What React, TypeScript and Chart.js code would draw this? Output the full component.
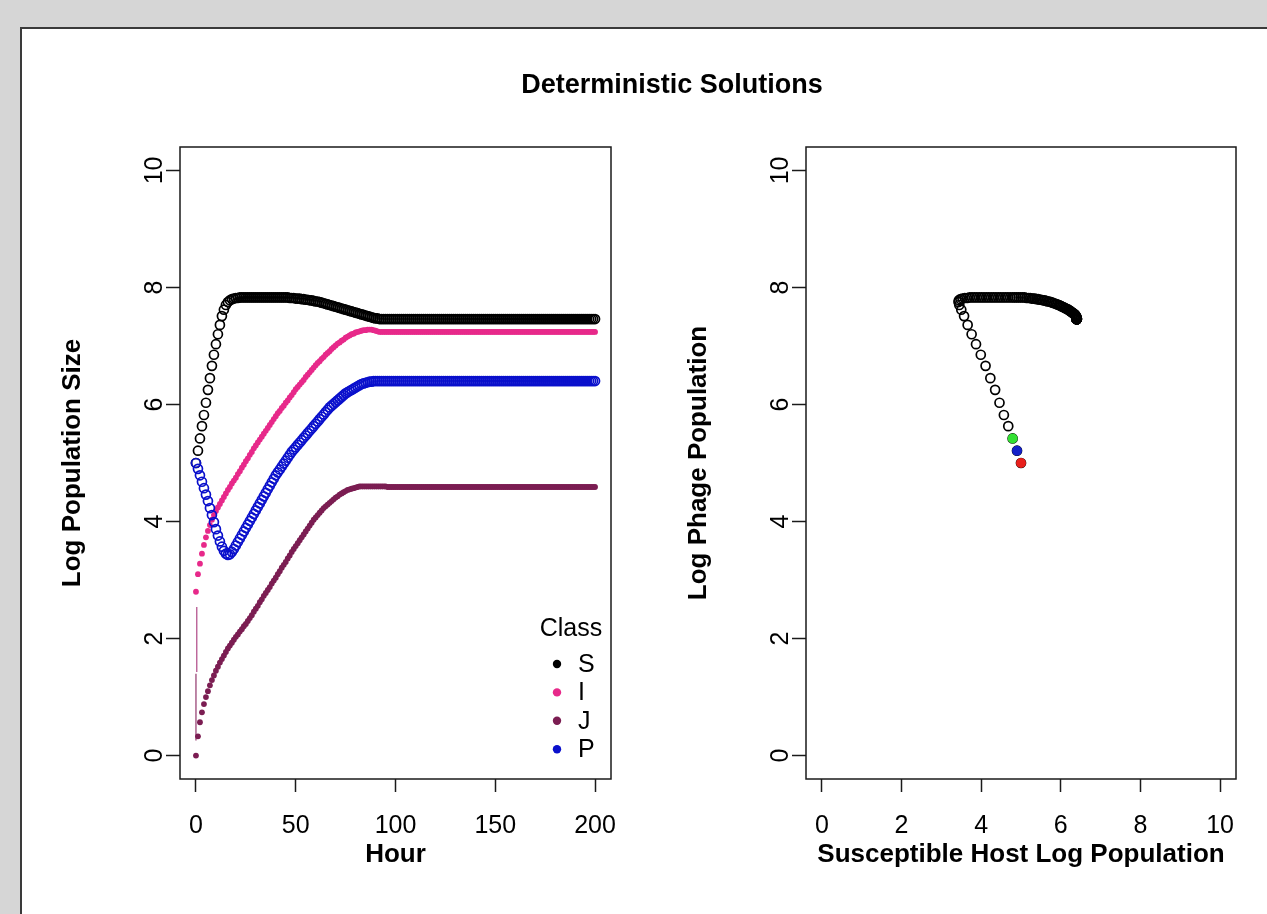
import React, { useEffect, useRef } from "react";
import { Chart, registerables } from "chart.js";

Chart.register(...registerables);

const FONT = '"Liberation Sans", Arial, Helvetica, sans-serif';

// ---------------- data ----------------
const HOURS = Array.from({ length: 201 }, (_, i) => i);

const S_LOG = [
  5.0, 5.21, 5.42, 5.63, 5.82, 6.03, 6.25, 6.45, 6.66, 6.85,
  7.03, 7.2, 7.36, 7.51, 7.62, 7.7, 7.75, 7.78, 7.8, 7.81,
  7.82, 7.82, 7.83, 7.83, 7.83, 7.83, 7.83, 7.83, 7.83, 7.83,
  7.83, 7.83, 7.83, 7.83, 7.83, 7.83, 7.83, 7.83, 7.83, 7.83,
  7.83, 7.83, 7.83, 7.83, 7.83, 7.83, 7.83, 7.82, 7.82, 7.82,
  7.81, 7.81, 7.81, 7.8, 7.8, 7.79, 7.79, 7.78, 7.78, 7.77,
  7.76, 7.76, 7.75, 7.74, 7.73, 7.72, 7.71, 7.7, 7.69, 7.68,
  7.67, 7.66, 7.65, 7.64, 7.63, 7.62, 7.61, 7.6, 7.59, 7.58,
  7.57, 7.56, 7.55, 7.54, 7.53, 7.52, 7.51, 7.5, 7.49, 7.48,
  7.47, 7.47, 7.46, 7.46, 7.46, 7.46, 7.46, 7.46, 7.46, 7.46,
  7.46, 7.46, 7.46, 7.46, 7.46, 7.46, 7.46, 7.46, 7.46, 7.46,
  7.46, 7.46, 7.46, 7.46, 7.46, 7.46, 7.46, 7.46, 7.46, 7.46,
  7.46, 7.46, 7.46, 7.46, 7.46, 7.46, 7.46, 7.46, 7.46, 7.46,
  7.46, 7.46, 7.46, 7.46, 7.46, 7.46, 7.46, 7.46, 7.46, 7.46,
  7.46, 7.46, 7.46, 7.46, 7.46, 7.46, 7.46, 7.46, 7.46, 7.46,
  7.46, 7.46, 7.46, 7.46, 7.46, 7.46, 7.46, 7.46, 7.46, 7.46,
  7.46, 7.46, 7.46, 7.46, 7.46, 7.46, 7.46, 7.46, 7.46, 7.46,
  7.46, 7.46, 7.46, 7.46, 7.46, 7.46, 7.46, 7.46, 7.46, 7.46,
  7.46, 7.46, 7.46, 7.46, 7.46, 7.46, 7.46, 7.46, 7.46, 7.46,
  7.46, 7.46, 7.46, 7.46, 7.46, 7.46, 7.46, 7.46, 7.46, 7.46,
  7.46,
];

const I_LOG = [
  2.8, 3.1, 3.28, 3.45, 3.6, 3.73, 3.84, 3.94, 4.03, 4.11,
  4.18, 4.24, 4.3, 4.36, 4.42, 4.48, 4.54, 4.59, 4.65, 4.7,
  4.75, 4.81, 4.86, 4.92, 4.97, 5.03, 5.08, 5.14, 5.19, 5.25,
  5.3, 5.35, 5.4, 5.45, 5.5, 5.55, 5.6, 5.65, 5.7, 5.75,
  5.8, 5.85, 5.89, 5.94, 5.98, 6.03, 6.07, 6.12, 6.16, 6.21,
  6.26, 6.3, 6.34, 6.38, 6.42, 6.47, 6.51, 6.55, 6.59, 6.63,
  6.67, 6.71, 6.74, 6.78, 6.81, 6.85, 6.88, 6.91, 6.95, 6.98,
  7.01, 7.04, 7.06, 7.09, 7.11, 7.14, 7.16, 7.18, 7.2, 7.21,
  7.23, 7.24, 7.25, 7.26, 7.27, 7.27, 7.28, 7.28, 7.28, 7.27,
  7.26, 7.25, 7.24, 7.24, 7.24, 7.24, 7.24, 7.24, 7.24, 7.24,
  7.24, 7.24, 7.24, 7.24, 7.24, 7.24, 7.24, 7.24, 7.24, 7.24,
  7.24, 7.24, 7.24, 7.24, 7.24, 7.24, 7.24, 7.24, 7.24, 7.24,
  7.24, 7.24, 7.24, 7.24, 7.24, 7.24, 7.24, 7.24, 7.24, 7.24,
  7.24, 7.24, 7.24, 7.24, 7.24, 7.24, 7.24, 7.24, 7.24, 7.24,
  7.24, 7.24, 7.24, 7.24, 7.24, 7.24, 7.24, 7.24, 7.24, 7.24,
  7.24, 7.24, 7.24, 7.24, 7.24, 7.24, 7.24, 7.24, 7.24, 7.24,
  7.24, 7.24, 7.24, 7.24, 7.24, 7.24, 7.24, 7.24, 7.24, 7.24,
  7.24, 7.24, 7.24, 7.24, 7.24, 7.24, 7.24, 7.24, 7.24, 7.24,
  7.24, 7.24, 7.24, 7.24, 7.24, 7.24, 7.24, 7.24, 7.24, 7.24,
  7.24, 7.24, 7.24, 7.24, 7.24, 7.24, 7.24, 7.24, 7.24, 7.24,
  7.24,
];

const J_LOG = [
  0.0, 0.33, 0.57, 0.74, 0.88, 1.0, 1.1, 1.2, 1.29, 1.37,
  1.45, 1.52, 1.59, 1.65, 1.71, 1.77, 1.83, 1.88, 1.93, 1.98,
  2.03, 2.07, 2.12, 2.16, 2.21, 2.25, 2.3, 2.35, 2.4, 2.46,
  2.51, 2.56, 2.62, 2.67, 2.73, 2.78, 2.83, 2.88, 2.94, 2.99,
  3.04, 3.1, 3.15, 3.21, 3.26, 3.31, 3.37, 3.42, 3.48, 3.53,
  3.58, 3.63, 3.68, 3.73, 3.78, 3.83, 3.88, 3.93, 3.98, 4.03,
  4.07, 4.11, 4.15, 4.19, 4.23, 4.26, 4.29, 4.32, 4.35, 4.38,
  4.41, 4.43, 4.46, 4.48, 4.5, 4.52, 4.54, 4.55, 4.56, 4.57,
  4.58, 4.59, 4.6, 4.6, 4.6, 4.6, 4.6, 4.6, 4.6, 4.6,
  4.6, 4.6, 4.6, 4.6, 4.6, 4.6, 4.59, 4.59, 4.59, 4.59,
  4.59, 4.59, 4.59, 4.59, 4.59, 4.59, 4.59, 4.59, 4.59, 4.59,
  4.59, 4.59, 4.59, 4.59, 4.59, 4.59, 4.59, 4.59, 4.59, 4.59,
  4.59, 4.59, 4.59, 4.59, 4.59, 4.59, 4.59, 4.59, 4.59, 4.59,
  4.59, 4.59, 4.59, 4.59, 4.59, 4.59, 4.59, 4.59, 4.59, 4.59,
  4.59, 4.59, 4.59, 4.59, 4.59, 4.59, 4.59, 4.59, 4.59, 4.59,
  4.59, 4.59, 4.59, 4.59, 4.59, 4.59, 4.59, 4.59, 4.59, 4.59,
  4.59, 4.59, 4.59, 4.59, 4.59, 4.59, 4.59, 4.59, 4.59, 4.59,
  4.59, 4.59, 4.59, 4.59, 4.59, 4.59, 4.59, 4.59, 4.59, 4.59,
  4.59, 4.59, 4.59, 4.59, 4.59, 4.59, 4.59, 4.59, 4.59, 4.59,
  4.59, 4.59, 4.59, 4.59, 4.59, 4.59, 4.59, 4.59, 4.59, 4.59,
  4.59,
];

const P_LOG = [
  5.0, 4.9, 4.79, 4.68, 4.57, 4.46, 4.35, 4.23, 4.11, 3.99,
  3.87, 3.76, 3.66, 3.57, 3.5, 3.45, 3.43, 3.44, 3.48, 3.53,
  3.59, 3.65, 3.71, 3.77, 3.83, 3.89, 3.95, 4.01, 4.07, 4.13,
  4.19, 4.25, 4.31, 4.37, 4.43, 4.49, 4.55, 4.61, 4.67, 4.73,
  4.79, 4.84, 4.89, 4.94, 4.99, 5.04, 5.09, 5.14, 5.19, 5.23,
  5.27, 5.31, 5.35, 5.39, 5.43, 5.47, 5.51, 5.55, 5.59, 5.63,
  5.67, 5.71, 5.75, 5.79, 5.83, 5.87, 5.91, 5.95, 5.98, 6.01,
  6.04, 6.07, 6.1, 6.13, 6.16, 6.19, 6.21, 6.23, 6.25, 6.27,
  6.29, 6.31, 6.33, 6.35, 6.36, 6.37, 6.38, 6.39, 6.39, 6.4,
  6.4, 6.4, 6.4, 6.4, 6.4, 6.4, 6.4, 6.4, 6.4, 6.4,
  6.4, 6.4, 6.4, 6.4, 6.4, 6.4, 6.4, 6.4, 6.4, 6.4,
  6.4, 6.4, 6.4, 6.4, 6.4, 6.4, 6.4, 6.4, 6.4, 6.4,
  6.4, 6.4, 6.4, 6.4, 6.4, 6.4, 6.4, 6.4, 6.4, 6.4,
  6.4, 6.4, 6.4, 6.4, 6.4, 6.4, 6.4, 6.4, 6.4, 6.4,
  6.4, 6.4, 6.4, 6.4, 6.4, 6.4, 6.4, 6.4, 6.4, 6.4,
  6.4, 6.4, 6.4, 6.4, 6.4, 6.4, 6.4, 6.4, 6.4, 6.4,
  6.4, 6.4, 6.4, 6.4, 6.4, 6.4, 6.4, 6.4, 6.4, 6.4,
  6.4, 6.4, 6.4, 6.4, 6.4, 6.4, 6.4, 6.4, 6.4, 6.4,
  6.4, 6.4, 6.4, 6.4, 6.4, 6.4, 6.4, 6.4, 6.4, 6.4,
  6.4, 6.4, 6.4, 6.4, 6.4, 6.4, 6.4, 6.4, 6.4, 6.4,
  6.4,
];

// thin start-up segments near hour 0
const I_START_T = [0.4, 0.4];
const I_START_V = [1.43, 2.54];
const J_START_T = [0.0, 0.0];
const J_START_V = [0.26, 1.4];

const HOUR_TICKS = [0, 50, 100, 150, 200];
const LOG_TICKS = [0, 2, 4, 6, 8, 10];
const HOST_TICKS = [0, 2, 4, 6, 8, 10];

const CLASS_LABELS = ["S", "I", "J", "P"];
const START_INDEX = [0, 1, 2]; // first three hours highlighted in the phase plot

const TITLE = "Deterministic Solutions";

// ---------------- styles ----------------
const COL_S = "#000000";
const COL_I = "#e7298a";
const COL_J = "#7b1d52";
const COL_P = "#0a10cc";
const START_COLORS = ["#e8201c", "#1420c8", "#33e033"];

const W = 1267;
const H = 914;

function pts(xs: number[], ys: number[]) {
  return xs.map((x, i) => ({ x, y: ys[i] }));
}

const framePlugin = {
  id: "frame",
  afterDraw(chart: any, _args: any, o: any) {
    const { ctx, chartArea: a, scales } = chart;
    const xs = scales.x;
    const ys = scales.y;
    ctx.save();
    ctx.strokeStyle = "#1a1a1a";
    ctx.lineWidth = 1.5;
    ctx.strokeRect(a.left, a.top, a.right - a.left, a.bottom - a.top);

    ctx.fillStyle = "#000";
    ctx.font = `25px ${FONT}`;
    ctx.textAlign = "center";
    ctx.textBaseline = "alphabetic";
    xs.ticks.forEach((t: any) => {
      ctx.fillText(String(t.value), xs.getPixelForValue(t.value), a.bottom + o.xLabelBase);
    });
    ys.ticks.forEach((t: any) => {
      ctx.save();
      ctx.translate(a.left - o.yLabelBase, ys.getPixelForValue(t.value));
      ctx.rotate(-Math.PI / 2);
      ctx.fillText(String(t.value), 0, 0);
      ctx.restore();
    });

    ctx.font = `bold 26px ${FONT}`;
    ctx.fillText(o.xTitle, (a.left + a.right) / 2, a.bottom + o.xTitleBase);
    ctx.save();
    ctx.translate(a.left - o.yTitleBase, (a.top + a.bottom) / 2);
    ctx.rotate(-Math.PI / 2);
    ctx.fillText(o.yTitle, 0, 0);
    ctx.restore();

    if (o.title) {
      ctx.font = `bold 27px ${FONT}`;
      ctx.fillText(o.title, o.titleX, o.titleY);
    }

    if (o.legend) {
      const L = o.legend;
      ctx.font = `25px ${FONT}`;
      ctx.textAlign = "center";
      ctx.fillText(L.title, a.right - L.titleFromRight, a.bottom - L.titleFromBottom);
      ctx.textAlign = "left";
      ctx.textBaseline = "middle";
      CLASS_LABELS.forEach((lab, i) => {
        const ds = chart.data.datasets.find((d: any) => d.label === lab);
        const cy = a.bottom - L.firstFromBottom + i * L.step;
        ctx.beginPath();
        ctx.fillStyle = ds ? ds.legendColor : "#000";
        ctx.arc(a.right - L.dotFromRight, cy, L.dotR, 0, Math.PI * 2);
        ctx.fill();
        ctx.fillStyle = "#000";
        ctx.fillText(lab, a.right - L.textFromRight, cy + 1);
      });
    }
    ctx.restore();
  },
};

function baseScales(xmin: number, xmax: number, xticks: number[], ymin: number, ymax: number, yticks: number[]) {
  return {
    x: {
      type: "linear",
      min: xmin,
      max: xmax,
      afterBuildTicks: (s: any) => {
        s.ticks = xticks.map((v) => ({ value: v }));
      },
      afterFit: (s: any) => {
        s.height = 20;
      },
      border: { display: false },
      grid: { drawOnChartArea: false, drawTicks: true, tickLength: 13, tickColor: "#1a1a1a", tickWidth: 1.5 },
      ticks: { display: false },
    },
    y: {
      type: "linear",
      min: ymin,
      max: ymax,
      afterBuildTicks: (s: any) => {
        s.ticks = yticks.map((v) => ({ value: v }));
      },
      afterFit: (s: any) => {
        s.width = 20;
      },
      border: { display: false },
      grid: { drawOnChartArea: false, drawTicks: true, tickLength: 14, tickColor: "#1a1a1a", tickWidth: 1.5 },
      ticks: { display: false },
    },
  };
}

export default function App() {
  const leftRef = useRef<HTMLCanvasElement | null>(null);
  const rightRef = useRef<HTMLCanvasElement | null>(null);

  useEffect(() => {
    const box1 = { left: 180, top: 147, right: 611, bottom: 779 };
    const box2 = { left: 806, top: 147, right: 1236, bottom: 779 };

    const left = new Chart(leftRef.current as HTMLCanvasElement, {
      type: "scatter",
      data: {
        datasets: [
          {
            label: "Istart",
            data: pts(I_START_T, I_START_V),
            showLine: true,
            borderColor: "#b5568f",
            borderWidth: 1.3,
            pointRadius: 0,
            order: 7,
          } as any,
          {
            label: "Jstart",
            data: pts(J_START_T, J_START_V),
            showLine: true,
            borderColor: "#9a4577",
            borderWidth: 1.3,
            pointRadius: 0,
            order: 6,
          } as any,
          {
            label: "S",
            legendColor: COL_S,
            data: pts(HOURS, S_LOG),
            pointRadius: 4.5,
            pointBorderWidth: 1.7,
            pointBorderColor: COL_S,
            pointBackgroundColor: "rgba(0,0,0,0)",
            order: 5,
          } as any,
          {
            label: "I",
            legendColor: COL_I,
            data: pts(HOURS, I_LOG),
            pointRadius: 2.9,
            pointBorderWidth: 0,
            pointBackgroundColor: COL_I,
            order: 4,
          } as any,
          {
            label: "J",
            legendColor: COL_J,
            data: pts(HOURS, J_LOG),
            pointRadius: 2.9,
            pointBorderWidth: 0,
            pointBackgroundColor: COL_J,
            order: 3,
          } as any,
          {
            label: "P",
            legendColor: COL_P,
            data: pts(HOURS, P_LOG),
            pointRadius: 4.5,
            pointBorderWidth: 1.7,
            pointBorderColor: COL_P,
            pointBackgroundColor: "rgba(0,0,0,0)",
            order: 2,
          } as any,
        ],
      },
      options: {
        responsive: false,
        devicePixelRatio: 1,
        animation: false,
        events: [],
        layout: {
          padding: { left: box1.left - 20, top: box1.top, right: W - box1.right, bottom: H - box1.bottom - 20 },
        },
        scales: baseScales(-8, 208, HOUR_TICKS, -0.4, 10.4, LOG_TICKS) as any,
        plugins: {
          legend: { display: false },
          tooltip: { enabled: false },
          frame: {
            xLabelBase: 54,
            yLabelBase: 18,
            xTitleBase: 83,
            yTitleBase: 100,
            xTitle: "Hour",
            yTitle: "Log Population Size",
            title: TITLE,
            titleX: 672,
            titleY: 93,
            legend: {
              title: "Class",
              titleFromRight: 40,
              titleFromBottom: 143,
              firstFromBottom: 115,
              step: 28.4,
              dotFromRight: 54,
              dotR: 4.2,
              textFromRight: 33,
            },
          },
        } as any,
      },
      plugins: [framePlugin as any],
    });

    const right = new Chart(rightRef.current as HTMLCanvasElement, {
      type: "scatter",
      data: {
        datasets: [
          {
            label: "start",
            data: START_INDEX.map((i) => ({ x: P_LOG[i], y: S_LOG[i] })),
            pointRadius: 5,
            pointBorderWidth: 0,
            pointBackgroundColor: START_COLORS,
            order: 1,
          } as any,
          {
            label: "phase",
            data: pts(P_LOG, S_LOG),
            pointRadius: 4.5,
            pointBorderWidth: 1.7,
            pointBorderColor: COL_S,
            pointBackgroundColor: "rgba(0,0,0,0)",
            order: 2,
          } as any,
        ],
      },
      options: {
        responsive: false,
        devicePixelRatio: 1,
        animation: false,
        events: [],
        layout: {
          padding: { left: box2.left - 20, top: box2.top, right: W - box2.right, bottom: H - box2.bottom - 20 },
        },
        scales: baseScales(-0.4, 10.4, HOST_TICKS, -0.4, 10.4, LOG_TICKS) as any,
        plugins: {
          legend: { display: false },
          tooltip: { enabled: false },
          frame: {
            xLabelBase: 54,
            yLabelBase: 18,
            xTitleBase: 83,
            yTitleBase: 100,
            xTitle: "Susceptible Host Log Population",
            yTitle: "Log Phage Population",
          },
        } as any,
      },
      plugins: [framePlugin as any],
    });

    return () => {
      left.destroy();
      right.destroy();
    };
  }, []);

  const canvasStyle: React.CSSProperties = { position: "absolute", left: 0, top: 0, width: W, height: H };

  return (
    <div style={{ position: "fixed", left: 0, top: 0, width: W, height: H, background: "#d6d6d6", overflow: "hidden" }}>
      <div
        style={{
          position: "absolute",
          left: 20,
          top: 27,
          right: 0,
          bottom: 0,
          background: "#ffffff",
          borderTop: "2px solid #3a3a3a",
          borderLeft: "2px solid #3a3a3a",
        }}
      />
      <canvas ref={leftRef} width={W} height={H} style={canvasStyle} />
      <canvas ref={rightRef} width={W} height={H} style={canvasStyle} />
    </div>
  );
}
